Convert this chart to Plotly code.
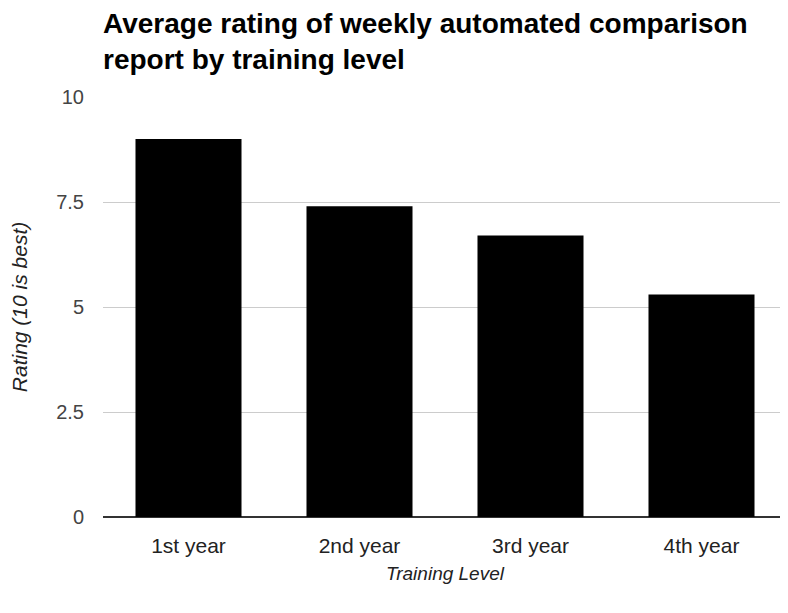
import plotly.graph_objects as go

categories = ["1st year", "2nd year", "3rd year", "4th year"]
ratings = [9.0, 7.4, 6.7, 5.3]
y_ticks = [0, 2.5, 5, 7.5, 10]
y_tick_labels = ["0", "2.5", "5", "7.5", "10"]
title_text = "<b>Average rating of weekly automated comparison<br>report by training level</b>"

FONT = "Liberation Sans, Arial, sans-serif"
# page body has an 8px default margin, so the figure is 8px smaller and margins shifted
fig = go.Figure(go.Bar(x=categories, y=ratings, marker=dict(color="black", line=dict(width=0))))

fig.update_layout(
    width=780, height=605,
    margin=dict(l=95, r=1, t=89, b=96),
    paper_bgcolor="white", plot_bgcolor="white",
    bargap=0.38,
    showlegend=False,
    font=dict(family=FONT, color="#222"),
)
fig.add_annotation(
    text=title_text, xref="paper", yref="paper", x=-2/684, y=1,
    xanchor="left", yanchor="top", yshift=91, align="left", showarrow=False,
    font=dict(size=28, color="black", family=FONT),
)
fig.update_yaxes(
    range=[0, 10], tickvals=y_ticks, ticktext=y_tick_labels,
    showgrid=True, gridcolor="#cccccc", gridwidth=1,
    zeroline=True, zerolinecolor="#333333", zerolinewidth=2,
    showline=False, ticks="", ticklabelstandoff=18,
    tickfont=dict(size=20, color="#444"),
    title=dict(text="<i>Rating (10 is best)</i>", font=dict(size=21, color="#222"), standoff=31),
    fixedrange=True,
)
fig.update_xaxes(
    showline=False, ticks="", ticklabelstandoff=14,
    tickfont=dict(size=21, color="#222"),
    title=dict(text="<i>Training Level</i>", font=dict(size=19, color="#222"), standoff=10),
)
fig.write_html("out.html")
